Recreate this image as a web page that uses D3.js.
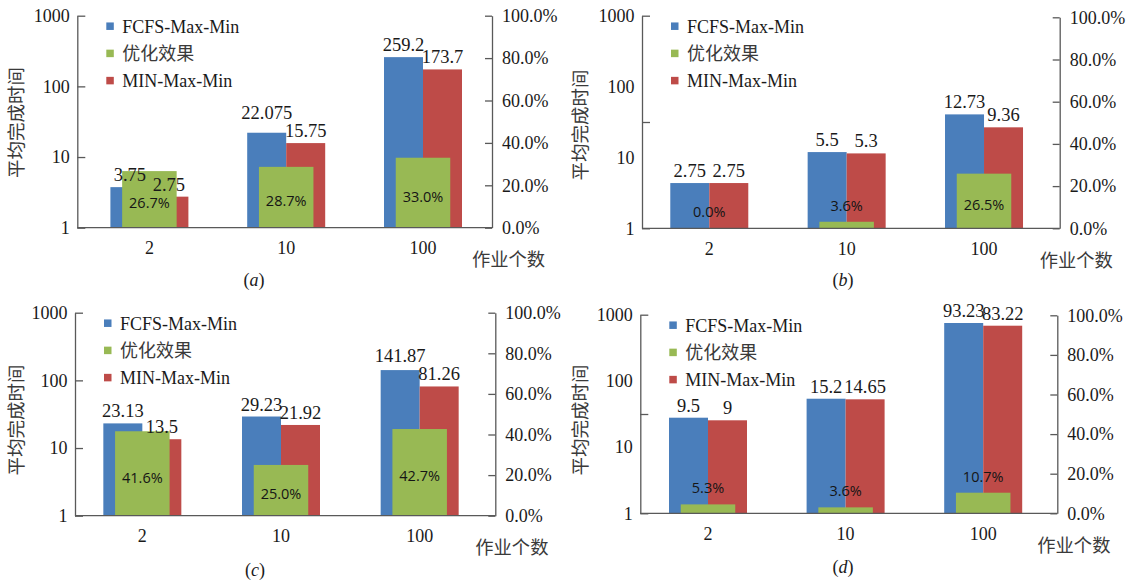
<!DOCTYPE html>
<html><head><meta charset="utf-8">
<script src="https://cdn.jsdelivr.net/npm/d3@7"></script>
<style>
html,body{margin:0;padding:0;background:#fff;}
svg{display:block;}
</style></head>
<body>
<svg id="chart" width="1130" height="580"></svg>
<script>
// ---------- data ----------
const categories = ["2", "10", "100"];
const seriesNames = ["FCFS-Max-Min", "优化效果", "MIN-Max-Min"];
const leftTickLabels = [1, 10, 100, 1000];
const rightTickValues = [0, 20, 40, 60, 80, 100];
const xTitle = "作业个数";
const yTitle = "平均完成时间";

// (a)
const fcfsA = [3.75, 22.075, 259.2];
const minA = [2.75, 15.75, 173.7];
const gainA = [26.7, 28.7, 33.0];
// (b)  bar heights as drawn; labels as printed
const fcfsB = [4.35, 11.9, 40.5];
const fcfsLabelsB = ["2.75", "5.5", "12.73"];
const minB = [4.35, 11.4, 26.6];
const minLabelsB = ["2.75", "5.3", "9.36"];
const gainB = [0.0, 3.1, 25.9];
const gainLabelsB = ["0.0%", "3.6%", "26.5%"];
// (c)
const fcfsC = [23.13, 29.23, 141.87];
const minC = [13.5, 21.92, 81.26];
const gainC = [41.6, 25.0, 42.7];
// (d)  bar heights as drawn; labels as printed
const fcfsD = [27.8, 53.8, 749];
const fcfsLabelsD = ["9.5", "15.2", "93.23"];
const minD = [25.4, 52.7, 682];
const minLabelsD = ["9", "14.65", "83.22"];
const gainD = [4.5, 3.0, 10.4];
const gainLabelsD = ["5.3%", "3.6%", "10.7%"];

// ---------- layout / style ----------
const colors = {fcfs: "#4a7ebb", gain: "#98b954", min: "#be4b48"};
const serif = "'Liberation Serif', 'Times New Roman', serif";
const cjk = "'Noto Sans CJK SC', sans-serif";
const sans = "'Open Sans', 'Noto Sans', sans-serif";
const axisColor = "#595959";
const textColor = "#1a1a1a";
const cjkColor = "#3a3a3a";
const valueFont = 18.5;

const panels = [
  {key: "a", fcfs: fcfsA, min: minA, gain: gainA, leftTickMarks: [1, 10, 100, 1000],
   left: 77.3, right: 492, top: 15.7, base: 227.7, rTop: 15.7, rBase: 227.7,
   band: [81, 491.4], cap: [254, 280], title: [17, 122.5]},
  {key: "b", fcfs: fcfsB, min: minB, gain: gainB,
   fcfsLabels: fcfsLabelsB, minLabels: minLabelsB, gainLabels: gainLabelsB,
   leftTickMarks: [1, 31.62, 1000],
   left: 642, right: 1059.7, top: 15.7, base: 228.3, rTop: 17.3, rBase: 228.3,
   band: [640.6, 1052.7], cap: [843, 279.3], title: [581, 125]},
  {key: "c", fcfs: fcfsC, min: minC, gain: gainC, leftTickMarks: [1, 10, 100, 1000],
   left: 75, right: 495.3, top: 312.7, base: 515.7, rTop: 312.7, rBase: 515.7,
   band: [73, 489], cap: [255, 570], title: [16.7, 420]},
  {key: "d", fcfs: fcfsD, min: minD, gain: gainD,
   fcfsLabels: fcfsLabelsD, minLabels: minLabelsD, gainLabels: gainLabelsD,
   leftTickMarks: [1, 31.62, 1000],
   left: 640.3, right: 1057.3, top: 314.7, base: 513.3, rTop: 315.3, rBase: 513.3,
   band: [639.2, 1052], cap: [843, 566.7], title: [581, 420]}
];

const svg = d3.select("#chart");
const barW = 39, gainW = 54.5;
// approximate width of a numeric label in a Times-like font
const textW = s => s.split("").reduce((w, ch) => w + (ch === "." ? 0.25 : 0.5), 0) * valueFont;

panels.forEach(p => {
  const g = svg.append("g");
  const y = d3.scaleLog().domain([1, 1000]).range([p.base, p.top]);
  const yR = d3.scaleLinear().domain([0, 100]).range([p.rBase, p.rTop]);
  const x = d3.scaleBand().domain(categories).range(p.band);
  const cx = c => x(c) + x.bandwidth() / 2;

  const fcfsLabels = p.fcfsLabels || p.fcfs.map(String);
  const minLabels = p.minLabels || p.min.map(String);
  const gainLabels = p.gainLabels || p.gain.map(v => v.toFixed(1) + "%");

  // bars: blue, red
  g.selectAll(".fcfs").data(categories).join("rect")
    .attr("x", c => cx(c) - barW).attr("width", barW)
    .attr("y", (c, i) => y(p.fcfs[i])).attr("height", (c, i) => p.base - y(p.fcfs[i]))
    .attr("fill", colors.fcfs);
  g.selectAll(".minb").data(categories).join("rect")
    .attr("x", c => cx(c)).attr("width", barW)
    .attr("y", (c, i) => y(p.min[i])).attr("height", (c, i) => p.base - y(p.min[i]))
    .attr("fill", colors.min);

  // green bars (secondary axis)
  g.selectAll(".gb").data(categories).join("rect")
    .attr("x", c => cx(c) - gainW / 2).attr("width", gainW)
    .attr("y", (c, i) => yR(p.gain[i])).attr("height", (c, i) => p.rBase - yR(p.gain[i]))
    .attr("fill", colors.gain);

  // value labels (on top of bars), blue label lifted when it would collide with red one
  const redY = (i) => y(p.min[i]) - 6;
  const blueY = (c, i) => {
    const by = y(p.fcfs[i]) - 6;
    const ry = redY(i);
    const overlapX = (cx(c) - barW / 2 + textW(fcfsLabels[i]) / 2) - (cx(c) + barW / 2 - textW(minLabels[i]) / 2);
    if (overlapX > 4 && Math.abs(by - ry) < 17) return Math.min(by, ry - 18);
    return by;
  };
  g.selectAll(".fl").data(categories).join("text")
    .attr("x", c => cx(c) - barW / 2).attr("y", blueY)
    .attr("text-anchor", "middle").attr("font-family", serif).attr("font-size", valueFont)
    .attr("fill", textColor).text((c, i) => fcfsLabels[i]);
  g.selectAll(".ml").data(categories).join("text")
    .attr("x", c => cx(c) + barW / 2).attr("y", (c, i) => redY(i))
    .attr("text-anchor", "middle").attr("font-family", serif).attr("font-size", valueFont)
    .attr("fill", textColor).text((c, i) => minLabels[i]);

  g.selectAll(".gl").data(categories).join("text")
    .attr("x", c => cx(c))
    .attr("y", (c, i) => {
      const top = yR(p.gain[i]);
      const h = p.rBase - top;
      return h < 25 ? top - 16 : top + h / 2 + 4;
    })
    .attr("dy", "0.35em")
    .attr("text-anchor", "middle").attr("font-family", sans).attr("font-size", 14.5)
    .attr("fill", "#151515").text((c, i) => gainLabels[i]);

  // left axis: tick marks
  const axL = g.append("g").attr("transform", `translate(${p.left},0)`)
    .call(d3.axisLeft(y).tickValues(p.leftTickMarks).tickFormat("").tickSize(-8).tickSizeOuter(0));
  // left axis labels
  const axLL = g.append("g").attr("transform", `translate(${p.left},0)`)
    .call(d3.axisLeft(y).tickValues(leftTickLabels).tickFormat(d3.format("d")).tickSize(0).tickPadding(7.5));
  axLL.select(".domain").remove();
  axLL.selectAll(".tick line").remove();

  // right axis
  const axR = g.append("g").attr("transform", `translate(${p.right},0)`)
    .call(d3.axisRight(yR).tickValues(rightTickValues).tickFormat(d => d.toFixed(1) + "%")
      .tickSize(-7).tickSizeOuter(0).tickPadding(10));

  [axL, axLL, axR].forEach(a => {
    a.selectAll(".domain, .tick line").attr("stroke", axisColor).attr("stroke-width", 1.3);
    a.selectAll("text").attr("font-family", serif).attr("font-size", 18).attr("fill", textColor);
  });

  // x axis baseline
  g.append("line").attr("x1", p.left).attr("x2", p.right)
    .attr("y1", p.base).attr("y2", p.base)
    .attr("stroke", axisColor).attr("stroke-width", 1.3);

  // category labels
  g.selectAll(".cat").data(categories).join("text")
    .attr("x", c => cx(c)).attr("y", p.base + 20).attr("dy", "0.35em")
    .attr("text-anchor", "middle").attr("font-family", serif).attr("font-size", 18)
    .attr("fill", textColor).text(c => c);

  // x title
  g.append("text").attr("x", p.right - 20).attr("y", p.base + 32).attr("dy", "0.35em")
    .attr("font-family", cjk).attr("font-size", 18.3).attr("fill", cjkColor).text(xTitle);

  // y title
  g.append("text").attr("transform", `translate(${p.title[0]},${p.title[1]}) rotate(-90)`)
    .attr("text-anchor", "middle").attr("dy", "0.35em")
    .attr("font-family", cjk).attr("font-size", 18.5).attr("fill", cjkColor).text(yTitle);

  // caption
  const cap = g.append("text").attr("x", p.cap[0]).attr("y", p.cap[1]).attr("dy", "0.35em")
    .attr("text-anchor", "middle").attr("font-family", serif).attr("font-size", 18).attr("fill", textColor);
  cap.append("tspan").text("(");
  cap.append("tspan").attr("font-style", "italic").text(p.key);
  cap.append("tspan").text(")");

  // legend
  const legColors = [colors.fcfs, colors.gain, colors.min];
  seriesNames.forEach((name, i) => {
    const ly = p.top + 10.5 + i * 27.2;
    g.append("rect").attr("x", p.left + 29).attr("y", ly - 3.75).attr("width", 7.5).attr("height", 7.5)
      .attr("fill", legColors[i]);
    g.append("text").attr("x", p.left + 45).attr("y", ly).attr("dy", "0.35em")
      .attr("font-family", i === 1 ? cjk : serif).attr("font-size", 18)
      .attr("fill", i === 1 ? cjkColor : textColor).text(name);
  });
});
</script>
</body></html>
